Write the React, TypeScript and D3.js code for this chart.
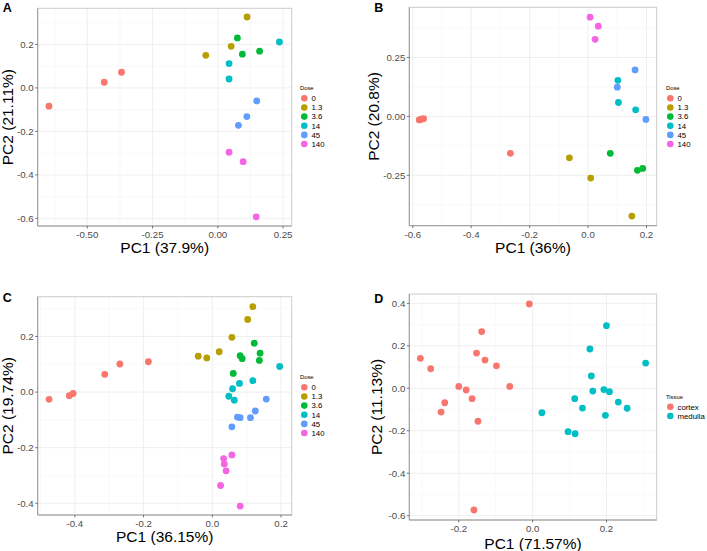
import React from "react";
import * as d3 from "d3";

const doseLevels = ["0", "1.3", "3.6", "14", "45", "140"];
const doseColors = ["#F8766D", "#B79F00", "#00BA38", "#00BFC4", "#619CFF", "#F564E3"];
const tissueLevels = ["cortex", "medulla"];
const tissueColors = ["#F8766D", "#00BFC4"];

// Panel A: [pc1, pc2, groupIndex]
const pcaA: [number, number, number][] = [
  [-0.647, -0.084, 0], [-0.435, 0.026, 0], [-0.369, 0.072, 0],
  [-0.046, 0.150, 1], [0.051, 0.191, 1], [0.112, 0.326, 1],
  [0.075, 0.230, 2], [0.094, 0.155, 2], [0.160, 0.169, 2],
  [0.043, 0.112, 3], [0.043, 0.041, 3], [0.236, 0.211, 3],
  [0.149, -0.060, 4], [0.111, -0.132, 4], [0.079, -0.172, 4],
  [0.043, -0.296, 5], [0.097, -0.339, 5], [0.147, -0.593, 5],
];
const pcaB: [number, number, number][] = [
  [-0.578, -0.015, 0], [-0.571, -0.012, 0], [-0.563, -0.010, 0], [-0.266, -0.157, 0],
  [-0.064, -0.176, 1], [0.009, -0.262, 1], [0.150, -0.423, 1],
  [0.076, -0.157, 2], [0.169, -0.229, 2], [0.187, -0.221, 2],
  [0.102, 0.153, 3], [0.104, 0.059, 3], [0.163, 0.028, 3],
  [0.100, 0.124, 4], [0.161, 0.197, 4], [0.198, -0.013, 4],
  [0.007, 0.421, 5], [0.035, 0.383, 5], [0.024, 0.327, 5],
];
const pcaC: [number, number, number][] = [
  [-0.475, -0.026, 0], [-0.416, -0.013, 0], [-0.405, -0.005, 0], [-0.313, 0.064, 0], [-0.269, 0.101, 0], [-0.186, 0.109, 0],
  [-0.041, 0.129, 1], [-0.016, 0.123, 1], [0.020, 0.145, 1], [0.057, 0.197, 1], [0.103, 0.261, 1], [0.118, 0.307, 1],
  [0.061, 0.067, 2], [0.081, 0.131, 2], [0.087, 0.120, 2], [0.122, 0.176, 2], [0.139, 0.140, 2], [0.137, 0.114, 2],
  [0.059, 0.012, 3], [0.079, 0.031, 3], [0.118, 0.041, 3], [0.196, 0.092, 3], [0.048, -0.015, 3], [0.064, -0.029, 3],
  [0.073, -0.090, 4], [0.081, -0.092, 4], [0.057, -0.125, 4], [0.111, -0.092, 4], [0.125, -0.068, 4], [0.157, -0.025, 4],
  [0.057, -0.226, 5], [0.033, -0.239, 5], [0.035, -0.259, 5], [0.040, -0.283, 5], [0.024, -0.336, 5], [0.081, -0.410, 5],
];
const pcaD: [number, number, number][] = [
  [-0.304, 0.141, 0], [-0.276, 0.092, 0], [-0.238, -0.068, 0], [-0.248, -0.112, 0], [-0.200, 0.009, 0],
  [-0.180, -0.008, 0], [-0.164, -0.049, 0], [-0.152, 0.166, 0], [-0.138, 0.267, 0], [-0.129, 0.133, 0],
  [-0.148, -0.155, 0], [-0.098, 0.106, 0], [-0.062, 0.009, 0], [-0.009, 0.397, 0], [-0.159, -0.573, 0],
  [0.025, -0.115, 1], [0.096, -0.204, 1], [0.115, -0.214, 1], [0.114, -0.049, 1], [0.135, -0.093, 1],
  [0.155, 0.185, 1], [0.159, 0.058, 1], [0.163, -0.013, 1], [0.193, -0.006, 1], [0.208, -0.016, 1],
  [0.200, 0.295, 1], [0.197, -0.127, 1], [0.232, -0.065, 1], [0.256, -0.094, 1], [0.306, 0.119, 1],
];

const xTicksA = [-0.5, -0.25, 0, 0.25];
const yTicksA = [-0.6, -0.4, -0.2, 0, 0.2];
const xTicksB = [-0.6, -0.4, -0.2, 0, 0.2];
const yTicksB = [-0.25, 0, 0.25];
const xTicksC = [-0.4, -0.2, 0, 0.2];
const yTicksC = [-0.4, -0.2, 0, 0.2];
const xTicksD = [-0.2, 0, 0.2];
const yTicksD = [-0.6, -0.4, -0.2, 0, 0.2, 0.4];

const FONT = "'Liberation Sans', Arial, Helvetica, sans-serif";

type PanelProps = {
  tag: string;
  tagY: number;
  box: [number, number, number, number]; // left, top, right, bottom
  xDomain: [number, number];
  yDomain: [number, number];
  xTicks: number[];
  yTicks: number[];
  xFmt: string;
  yFmt: string;
  xTitle: string;
  yTitle: string;
  data: [number, number, number][];
  levels: string[];
  colors: string[];
  legendTitle: string;
  legendX: number;
  legendY: number;
  yTitleX: number;
  xTitleY: number;
};

function minors(ticks: number[], dom: [number, number]) {
  const step = ticks[1] - ticks[0];
  const out: number[] = [];
  for (let i = -1; i < ticks.length; i++) {
    const v = ticks[0] + step * (i + 0.5);
    if (v >= dom[0] && v <= dom[1]) out.push(v);
  }
  return out;
}

function Panel(p: PanelProps) {
  const [l, t, r, b] = p.box;
  const x = d3.scaleLinear().domain(p.xDomain).range([l, r]);
  const y = d3.scaleLinear().domain(p.yDomain).range([b, t]);
  const fx = d3.format(p.xFmt);
  const fy = d3.format(p.yFmt);
  const fmt = (f: (n: number) => string, v: number) => f(v).replace("−", "-");
  const xm = minors(p.xTicks, p.xDomain);
  const ym = minors(p.yTicks, p.yDomain);
  return (
    <g fontFamily={FONT}>
      <rect x={l} y={t} width={r - l} height={b - t} fill="#fff" />
      {xm.map((v, i) => (
        <line key={"xm" + i} x1={x(v)} x2={x(v)} y1={t} y2={b} stroke="#F2F2F2" strokeWidth={0.5} />
      ))}
      {ym.map((v, i) => (
        <line key={"ym" + i} x1={l} x2={r} y1={y(v)} y2={y(v)} stroke="#F2F2F2" strokeWidth={0.5} />
      ))}
      {p.xTicks.map((v, i) => (
        <line key={"xg" + i} x1={x(v)} x2={x(v)} y1={t} y2={b} stroke="#EBEBEB" strokeWidth={0.8} />
      ))}
      {p.yTicks.map((v, i) => (
        <line key={"yg" + i} x1={l} x2={r} y1={y(v)} y2={y(v)} stroke="#EBEBEB" strokeWidth={0.8} />
      ))}
      <rect x={l} y={t} width={r - l} height={b - t} fill="none" stroke="#CCCCCC" strokeWidth={1} />
      <line x1={l} x2={l} y1={t} y2={b} stroke="#999999" strokeWidth={1} />
      <line x1={l} x2={r} y1={b} y2={b} stroke="#999999" strokeWidth={1} />
      {p.xTicks.map((v, i) => (
        <g key={"xt" + i}>
          <line x1={x(v)} x2={x(v)} y1={b} y2={b + 2.5} stroke="#555" strokeWidth={0.8} />
          <text x={x(v)} y={b + 12.3} textAnchor="middle" fontSize={9.7} fill="#4D4D4D">
            {fmt(fx, v)}
          </text>
        </g>
      ))}
      {p.yTicks.map((v, i) => (
        <g key={"yt" + i}>
          <line x1={l - 2.5} x2={l} y1={y(v)} y2={y(v)} stroke="#555" strokeWidth={0.8} />
          <text x={l - 4} y={y(v) + 3.4} textAnchor="end" fontSize={9.7} fill="#4D4D4D">
            {fmt(fy, v)}
          </text>
        </g>
      ))}
      {p.data.map((d, i) => (
        <circle key={"pt" + i} cx={x(d[0])} cy={y(d[1])} r={3.4} fill={p.colors[d[2]]} />
      ))}
      <text x={(l + r) / 2} y={p.xTitleY} textAnchor="middle" fontSize={15.5} fill="#000">
        {p.xTitle}
      </text>
      <text
        transform={`translate(${p.yTitleX},${(t + b) / 2}) rotate(-90)`}
        textAnchor="middle"
        fontSize={15.5}
        fill="#000"
      >
        {p.yTitle}
      </text>
      <text x={l - 35} y={p.tagY} fontSize={12.5} fontWeight="bold" fill="#000">
        {p.tag}
      </text>
      <g>
        <text x={p.legendX} y={p.legendY} fontSize={5.8} fill="#000">
          {p.legendTitle}
        </text>
        {p.levels.map((lv, i) => (
          <g key={"lg" + i}>
            <circle cx={p.legendX + 4.3} cy={p.legendY + 8.3 + i * 9.15} r={3.3} fill={p.colors[i]} />
            <text x={p.legendX + 11.5} y={p.legendY + 11.1 + i * 9.15} fontSize={7.8} fill="#000">
              {lv}
            </text>
          </g>
        ))}
      </g>
    </g>
  );
}

export default function App() {
  return (
    <svg width={707} height={551} style={{ position: "absolute", left: 0, top: 0, background: "#fff" }}>
      <rect width={707} height={551} fill="#fff" />
      <Panel
        tag="A"
        tagY={11.7}
        box={[37.7, 8.3, 291.7, 226]}
        xDomain={[-0.69, 0.283]}
        yDomain={[-0.635, 0.366]}
        xTicks={xTicksA}
        yTicks={yTicksA}
        xFmt=".2f"
        yFmt=".1f"
        xTitle="PC1 (37.9%)"
        yTitle="PC2 (21.11%)"
        data={pcaA}
        levels={doseLevels}
        colors={doseColors}
        legendTitle="Dose"
        legendX={300}
        legendY={90}
        yTitleX={12.5}
        xTitleY={253}
      />
      <Panel
        tag="B"
        tagY={11.7}
        box={[409.3, 7.3, 656.7, 225.7]}
        xDomain={[-0.612, 0.235]}
        yDomain={[-0.464, 0.463]}
        xTicks={xTicksB}
        yTicks={yTicksB}
        xFmt=".1f"
        yFmt=".2f"
        xTitle="PC1 (36%)"
        yTitle="PC2 (20.8%)"
        data={pcaB}
        levels={doseLevels}
        colors={doseColors}
        legendTitle="Dose"
        legendX={666}
        legendY={90}
        yTitleX={378.5}
        xTitleY={253}
      />
      <Panel
        tag="C"
        tagY={301.7}
        box={[37.7, 296.7, 291.7, 515]}
        xDomain={[-0.508, 0.231]}
        yDomain={[-0.442, 0.343]}
        xTicks={xTicksC}
        yTicks={yTicksC}
        xFmt=".1f"
        yFmt=".1f"
        xTitle="PC1 (36.15%)"
        yTitle="PC2 (19.74%)"
        data={pcaC}
        levels={doseLevels}
        colors={doseColors}
        legendTitle="Dose"
        legendX={300}
        legendY={379}
        yTitleX={12.5}
        xTitleY={542}
      />
      <Panel
        tag="D"
        tagY={303}
        box={[409.3, 294, 656.7, 520]}
        xDomain={[-0.334, 0.336]}
        yDomain={[-0.62, 0.444]}
        xTicks={xTicksD}
        yTicks={yTicksD}
        xFmt=".1f"
        yFmt=".1f"
        xTitle="PC1 (71.57%)"
        yTitle="PC2 (11.13%)"
        data={pcaD}
        levels={tissueLevels}
        colors={tissueColors}
        legendTitle="Tissue"
        legendX={666}
        legendY={398.5}
        yTitleX={382}
        xTitleY={548.5}
      />
    </svg>
  );
}
